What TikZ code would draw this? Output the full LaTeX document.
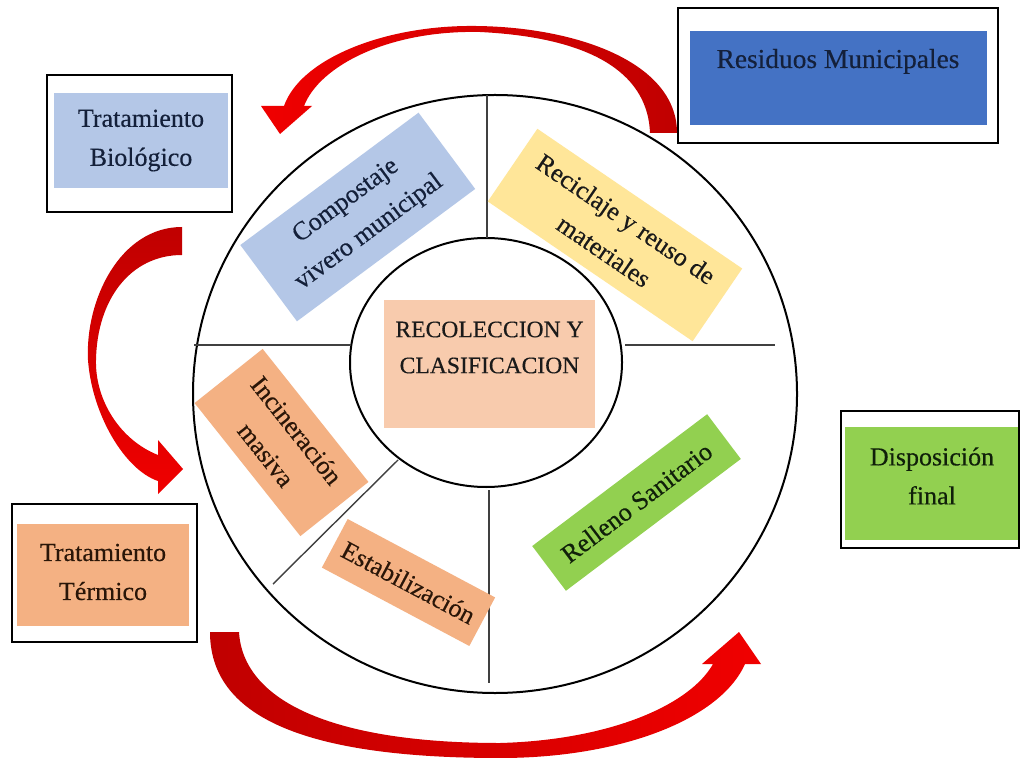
\documentclass[tikz,border=0pt]{standalone}
\usepackage{fontspec}
\setmainfont{Liberation Serif}[FakeBold=0.35]
\definecolor{resblue}{HTML}{4472C4}
\definecolor{lblue}{HTML}{B4C7E7}
\definecolor{lyellow}{HTML}{FFE699}
\definecolor{lorange}{HTML}{F4B183}
\definecolor{lsalmon}{HTML}{F8CBAD}
\definecolor{lgreen}{HTML}{92D050}
\definecolor{arrdark}{RGB}{192,0,0}
\definecolor{arrred}{RGB}{240,0,0}
\definecolor{txtnavy}{HTML}{14203A}
\definecolor{txtdark}{HTML}{1A1A1A}
\definecolor{txtbrown}{HTML}{2A1608}
\definecolor{txtgreen}{HTML}{10200A}
\begin{document}
\begin{tikzpicture}[x=0.5pt,y=-0.5pt,
  frame/.style={draw=black, line width=1.1pt, inner sep=0pt},
  panel/.style={inner sep=0pt, align=center, font=\fontsize{13}{19.5}\selectfont, text=txtdark},
  sector/.style={inner sep=0pt, align=center, font=\fontsize{13}{19.5}\selectfont, text=txtdark},
  ring/.style={draw=black, line width=1pt},
  divider/.style={draw=black!75, line width=0.7pt}]
\fill[white] (0,0) rectangle (1020,758);
\useasboundingbox (0,0) rectangle (1020,758);

% rings and dividers
\draw[ring] (495,394) ellipse [x radius=302, y radius=299];
\draw[ring] (486,362.5) ellipse [x radius=136, y radius=124.5];
\draw[divider] (487,95) -- (487,238);
\draw[divider] (194,345) -- (351,345);
\draw[divider] (625,345) -- (775,345);
\draw[divider] (489,490) -- (489,683);
\draw[divider] (398,460) -- (273,584);

% sectors
\node[sector, fill=lblue, text=txtnavy, rotate=36.6, minimum width=111pt, minimum height=47.5pt] (comp) at (357.75,217) {Compostaje\\vivero municipal};
\node[sector, fill=lyellow, rotate=-34.3, minimum width=124pt, minimum height=44pt] (recic) at (615,235) {Reciclaje y reuso de\\materiales};
\node[sector, fill=lorange, text=txtbrown, rotate=-51.5, minimum width=85pt, minimum height=43.5pt] (incin) at (281.5,442.5) {Incineración\\masiva};
\node[sector, fill=lorange, text=txtbrown, rotate=-28, minimum width=83.5pt, minimum height=27.5pt] (estab) at (408.5,582.5) {Estabilización};
\node[sector, fill=lgreen, text=txtgreen, rotate=37, minimum width=109.5pt, minimum height=28pt] (relle) at (636.5,502.5) {Relleno Sanitario};

% centre
\node[fill=lsalmon, inner sep=0pt, minimum width=105.5pt, minimum height=64pt] (reco) at (489.5,364) {};
\node[panel, font=\fontsize{11.8}{18}\selectfont] (recoT) at (489.5,347.5) {RECOLECCION Y\\CLASIFICACION};

% outer boxes
\node[frame, minimum width=160pt, minimum height=67.5pt] (resF) at (838,75.5) {};
\node[panel, fill=resblue, minimum width=148.5pt, minimum height=47pt] (resP) at (838.5,78) {};
\node[panel, anchor=base, text=txtnavy, font=\fontsize{13.7}{19.5}\selectfont] (resT) at (838,68) {Residuos Municipales};

\node[frame, minimum width=92.5pt, minimum height=68.5pt] (bioF) at (139.5,143.5) {};
\node[panel, fill=lblue, text=txtnavy, minimum width=87pt, minimum height=47.5pt] (bioP) at (141,140.5) {Tratamiento\\Biológico};

\node[frame, minimum width=92.5pt, minimum height=69pt] (terF) at (104.5,573) {};
\node[panel, fill=lorange, text=txtbrown, minimum width=86pt, minimum height=51pt] (terP) at (103,575) {};
\node[panel, text=txtbrown] (terT) at (103,572) {Tratamiento\\Térmico};

\node[frame, minimum width=89pt, minimum height=68.5pt] (disF) at (930,479.5) {};
\node[panel, fill=lgreen, minimum width=86.5pt, minimum height=56.5pt] (disP) at (931.5,483.5) {};
\node[panel, text=txtgreen] (disT) at (932,476) {Disposición\\final};

% curved arrows
\shade[left color=arrred, right color=arrdark]
  (650,133) .. controls (648,78) and (600,38) .. (480,32)
  .. controls (390,30) and (320,65) .. (304,106)
  -- (312,106) -- (280,134) -- (261,106) -- (284,106)
  .. controls (300,60) and (380,27) .. (467,26)
  .. controls (570,25) and (677,60) .. (677,133) -- cycle;
\shade[top color=arrdark, bottom color=arrred]
  (182,227) .. controls (120,227) and (85,300) .. (88,360)
  .. controls (92,415) and (125,470) .. (158,481)
  -- (158,494) -- (183,469) -- (158,440) -- (158,455)
  .. controls (120,440) and (95,400) .. (96,360)
  .. controls (97,300) and (130,255) .. (182,255) -- cycle;
\shade[left color=arrdark, right color=arrred]
  (210,632) .. controls (210,715) and (300,758) .. (500,758)
  .. controls (620,758) and (720,720) .. (745,664)
  -- (761,664) -- (739,632) -- (702,664) -- (713,664)
  .. controls (690,705) and (610,740) .. (500,743)
  .. controls (330,743) and (243,700) .. (239,632) -- cycle;
\end{tikzpicture}
\end{document}
